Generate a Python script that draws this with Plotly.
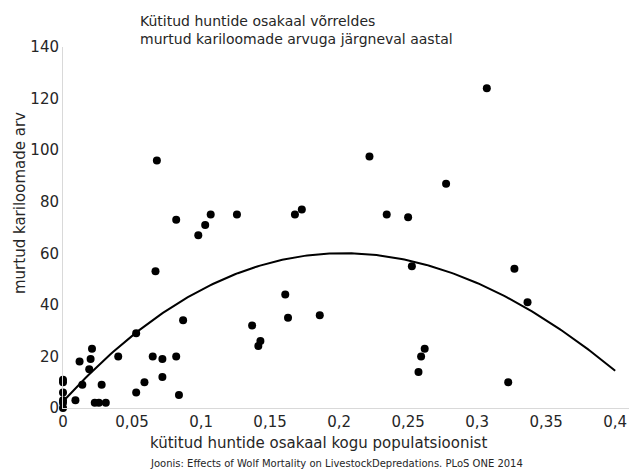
import numpy as np
import plotly.graph_objects as go

# share of hunted wolves (x) vs livestock killed next year (y)
hunted_share = [0, 0, 0, 0, 0, 0,
                0.009, 0.012, 0.014, 0.019, 0.020, 0.021, 0.023, 0.026, 0.028, 0.031,
                0.040, 0.053, 0.053, 0.059, 0.065, 0.067, 0.068, 0.072, 0.072, 0.082,
                0.082, 0.084, 0.087, 0.098, 0.103, 0.107, 0.126, 0.137, 0.1415, 0.143,
                0.161, 0.163, 0.168, 0.173, 0.186, 0.222, 0.2345, 0.250, 0.2527, 0.2575,
                0.2594, 0.262, 0.2775, 0.307, 0.3225, 0.327, 0.3365]
livestock_killed = [11, 10, 6, 3, 2, 0,
                    3, 18, 9, 15, 19, 23, 2, 2, 9, 2,
                    20, 29, 6, 10, 20, 53, 96, 19, 12, 20,
                    73, 5, 34, 67, 71, 75, 75, 32, 24, 26,
                    44, 35, 75, 77, 36, 97.5, 75, 74, 55, 14,
                    20, 23, 87, 124, 10, 54, 41]

# trend-line polynomial coefficients (highest order first)
trend_coef = [546.6, -1616.7, 589.06, 2.5]
trend_range = [0, 0.4]

x_tickvals = [0, 0.05, 0.1, 0.15, 0.2, 0.25, 0.3, 0.35, 0.4]
x_ticktext = ["0", "0,05", "0,1", "0,15", "0,2", "0,25", "0,3", "0,35", "0,4"]
y_tickvals = [0, 20, 40, 60, 80, 100, 120, 140]

trend_x = np.linspace(trend_range[0], trend_range[1], 200)
trend_y = np.polyval(trend_coef, trend_x)

FONT = "DejaVu Sans"
TXT = "#262626"

fig = go.Figure()
fig.add_trace(go.Scatter(x=trend_x, y=trend_y, mode="lines",
                         line=dict(color="black", width=2), hoverinfo="skip",
                         showlegend=False, cliponaxis=False))
fig.add_trace(go.Scatter(x=hunted_share, y=livestock_killed, mode="markers",
                         marker=dict(color="black", size=8), showlegend=False,
                         cliponaxis=False))

fig.update_layout(
    width=633, height=475,
    margin=dict(l=63, r=4, t=47, b=67),
    paper_bgcolor="white", plot_bgcolor="white",
    font=dict(family=FONT, color=TXT, size=15),
    title=dict(text="Kütitud huntide osakaal võrreldes<br>murtud kariloomade arvuga järgneval aastal",
               xref="container", yref="container", x=140/633, xanchor="left",
               y=1 - 25.5/475, yanchor="middle",
               font=dict(family=FONT, size=14, color=TXT)),
    xaxis=dict(range=[0, 0.41], tickvals=x_tickvals, ticktext=x_ticktext,
               showgrid=False, zeroline=False, showline=True, linecolor="#d9d9d9",
               linewidth=1, ticks="", tickfont=dict(size=15, color=TXT)),
    yaxis=dict(range=[0, 140], tickvals=y_tickvals, showgrid=False, zeroline=False,
               showline=True, linecolor="#d9d9d9", linewidth=1, ticks="",
               tickfont=dict(size=15, color=TXT)),
    annotations=[
        dict(text="murtud kariloomade arv", xref="paper", yref="paper",
             x=(20 - 63) / 566, y=(408 - 203) / 361, textangle=-90,
             showarrow=False, xanchor="center", yanchor="middle",
             font=dict(family=FONT, size=15, color=TXT)),
        dict(text="kütitud huntide osakaal kogu populatsioonist", xref="paper", yref="paper",
             x=(318 - 63) / 566, y=-(443 - 408) / 361, showarrow=False,
             xanchor="center", yanchor="middle",
             font=dict(family=FONT, size=15, color=TXT)),
        dict(text="Joonis: Effects of Wolf Mortality on LivestockDepredations. PLoS ONE 2014",
             xref="paper", yref="paper",
             x=(336 - 63) / 566, y=-(463 - 408) / 361, showarrow=False,
             xanchor="center", yanchor="middle",
             font=dict(family=FONT, size=10, color=TXT)),
    ],
)

fig.write_html("out.html", config={"displayModeBar": False},
               post_script="document.body.style.margin='0';")
